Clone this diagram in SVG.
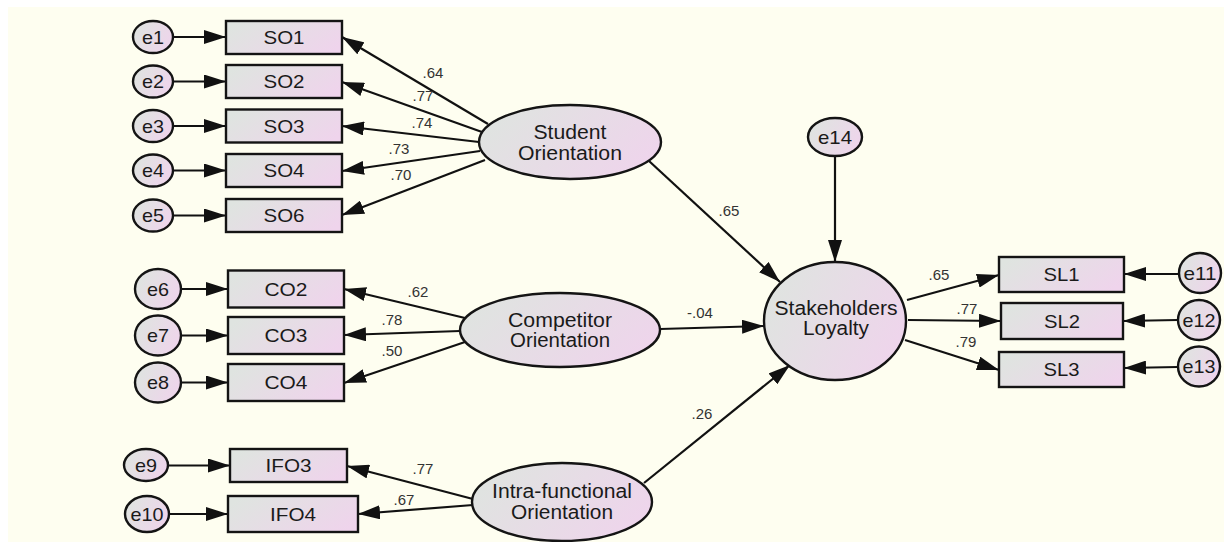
<svg xmlns="http://www.w3.org/2000/svg" width="1224" height="542" viewBox="0 0 1224 542">
<style>
.bg{fill:#fefef0}
.box{fill:url(#g);stroke:#141414;stroke-width:2.4}
.ell{fill:url(#g);stroke:#141414;stroke-width:2.4}
.t{font-family:"Liberation Sans",Arial,sans-serif;font-size:18.5px;fill:#1a1a1a;text-anchor:middle}
.lt{font-family:"Liberation Sans",Arial,sans-serif;font-size:19.5px;fill:#1a1a1a;text-anchor:middle}
.c{font-family:"Liberation Sans",Arial,sans-serif;font-size:15px;fill:#333;text-anchor:middle}
.ln{stroke:#111;stroke-width:2.2;fill:none;marker-end:url(#ah)}
</style>
<defs>
<linearGradient id="g" x1="0" y1="0.3" x2="1" y2="0.7">
<stop offset="0" stop-color="#dfe4e0"/>
<stop offset="1" stop-color="#efd4ec"/>
</linearGradient>
<marker id="ah" viewBox="0 0 22 14" refX="22" refY="7" markerWidth="22" markerHeight="14" markerUnits="userSpaceOnUse" orient="auto">
<path d="M0,0 L22,7 L0,14 z" fill="#111"/>
</marker>
</defs>
<rect x="0" y="0" width="1224" height="542" fill="#ffffff"/>
<rect class="bg" x="8" y="7" width="1216" height="535"/>

<g id="connectors">
<line class="ln" x1="173" y1="37" x2="226" y2="37"/>
<line class="ln" x1="173" y1="81.5" x2="226" y2="81.5"/>
<line class="ln" x1="173" y1="126" x2="226" y2="126"/>
<line class="ln" x1="173" y1="170.5" x2="226" y2="170.5"/>
<line class="ln" x1="173" y1="215.5" x2="226" y2="215.5"/>
<line class="ln" x1="181" y1="289" x2="228" y2="289"/>
<line class="ln" x1="181" y1="335.5" x2="228" y2="335.5"/>
<line class="ln" x1="181" y1="382.5" x2="228" y2="382.5"/>
<line class="ln" x1="168" y1="465.5" x2="230" y2="465.5"/>
<line class="ln" x1="169" y1="514" x2="228" y2="514"/>
<line class="ln" x1="488" y1="124" x2="342" y2="37"/>
<line class="ln" x1="482" y1="132" x2="342" y2="82"/>
<line class="ln" x1="479" y1="142" x2="342" y2="126"/>
<line class="ln" x1="480" y1="151" x2="342" y2="171"/>
<line class="ln" x1="485" y1="160" x2="342" y2="215"/>
<line class="ln" x1="465" y1="318" x2="344" y2="289"/>
<line class="ln" x1="460" y1="331" x2="344" y2="335"/>
<line class="ln" x1="465" y1="342" x2="344" y2="383"/>
<line class="ln" x1="473" y1="499" x2="347" y2="466"/>
<line class="ln" x1="473" y1="505" x2="358" y2="514"/>
<line class="ln" x1="649" y1="161" x2="780" y2="282"/>
<line class="ln" x1="660" y1="329" x2="764" y2="326"/>
<line class="ln" x1="644" y1="483" x2="790" y2="365"/>
<line class="ln" x1="835" y1="157" x2="835" y2="262"/>
<line class="ln" x1="907" y1="300" x2="999" y2="275"/>
<line class="ln" x1="908" y1="320" x2="1001" y2="321"/>
<line class="ln" x1="905" y1="340" x2="999" y2="370"/>
<line class="ln" x1="1179" y1="274" x2="1124" y2="274"/>
<line class="ln" x1="1178" y1="320" x2="1123" y2="321"/>
<line class="ln" x1="1178" y1="367" x2="1124" y2="368"/>
<text class="c" x="433" y="78">.64</text>
<text class="c" x="423" y="101">.77</text>
<text class="c" x="422" y="128">.74</text>
<text class="c" x="399" y="154">.73</text>
<text class="c" x="401" y="180">.70</text>
<text class="c" x="418" y="297">.62</text>
<text class="c" x="392" y="325">.78</text>
<text class="c" x="392" y="356">.50</text>
<text class="c" x="423" y="474">.77</text>
<text class="c" x="404" y="505">.67</text>
<text class="c" x="729" y="216">.65</text>
<text class="c" x="700" y="318">-.04</text>
<text class="c" x="702" y="419">.26</text>
<text class="c" x="939" y="280">.65</text>
<text class="c" x="967" y="314">.77</text>
<text class="c" x="966" y="347">.79</text>
</g>

<g id="e1"><ellipse class="ell" cx="153" cy="37" rx="20" ry="16"/><text class="t" x="153" y="43.5" textLength="22" lengthAdjust="spacingAndGlyphs">e1</text></g>
<g id="e2"><ellipse class="ell" cx="153" cy="81.5" rx="20" ry="16"/><text class="t" x="153" y="88" textLength="22" lengthAdjust="spacingAndGlyphs">e2</text></g>
<g id="e3"><ellipse class="ell" cx="153" cy="126" rx="20" ry="16"/><text class="t" x="153" y="132.5" textLength="22" lengthAdjust="spacingAndGlyphs">e3</text></g>
<g id="e4"><ellipse class="ell" cx="153" cy="170.5" rx="20" ry="16"/><text class="t" x="153" y="177" textLength="22" lengthAdjust="spacingAndGlyphs">e4</text></g>
<g id="e5"><ellipse class="ell" cx="153" cy="215.5" rx="20" ry="16"/><text class="t" x="153" y="222" textLength="22" lengthAdjust="spacingAndGlyphs">e5</text></g>

<g id="SO1"><rect class="box" x="226" y="21" width="116" height="33"/><text class="t" x="284" y="44" textLength="41" lengthAdjust="spacingAndGlyphs">SO1</text></g>
<g id="SO2"><rect class="box" x="226" y="65" width="116" height="33"/><text class="t" x="284" y="88" textLength="41" lengthAdjust="spacingAndGlyphs">SO2</text></g>
<g id="SO3"><rect class="box" x="226" y="109.5" width="116" height="33"/><text class="t" x="284" y="132.5" textLength="41" lengthAdjust="spacingAndGlyphs">SO3</text></g>
<g id="SO4"><rect class="box" x="226" y="154" width="116" height="33"/><text class="t" x="284" y="177" textLength="41" lengthAdjust="spacingAndGlyphs">SO4</text></g>
<g id="SO6"><rect class="box" x="226" y="199" width="116" height="33"/><text class="t" x="284" y="222" textLength="41" lengthAdjust="spacingAndGlyphs">SO6</text></g>

<g id="StudentOrientation"><ellipse class="ell" cx="570" cy="142" rx="91" ry="37"/><text class="lt" x="570" y="139" textLength="73" lengthAdjust="spacingAndGlyphs">Student</text><text class="lt" x="570" y="160" textLength="104" lengthAdjust="spacingAndGlyphs">Orientation</text></g>

<g id="e6"><ellipse class="ell" cx="158" cy="289" rx="23" ry="20"/><text class="t" x="158" y="295.5" textLength="22" lengthAdjust="spacingAndGlyphs">e6</text></g>
<g id="e7"><ellipse class="ell" cx="158" cy="335.5" rx="23" ry="20"/><text class="t" x="158" y="342" textLength="22" lengthAdjust="spacingAndGlyphs">e7</text></g>
<g id="e8"><ellipse class="ell" cx="158" cy="382.5" rx="23" ry="20"/><text class="t" x="158" y="389" textLength="22" lengthAdjust="spacingAndGlyphs">e8</text></g>

<g id="CO2"><rect class="box" x="228" y="270.5" width="116" height="37"/><text class="t" x="286" y="295.5" textLength="43" lengthAdjust="spacingAndGlyphs">CO2</text></g>
<g id="CO3"><rect class="box" x="228" y="317" width="116" height="37"/><text class="t" x="286" y="342" textLength="43" lengthAdjust="spacingAndGlyphs">CO3</text></g>
<g id="CO4"><rect class="box" x="228" y="364" width="116" height="37"/><text class="t" x="286" y="389" textLength="43" lengthAdjust="spacingAndGlyphs">CO4</text></g>

<g id="CompetitorOrientation"><ellipse class="ell" cx="560" cy="330" rx="100" ry="37"/><text class="lt" x="560" y="327" textLength="104" lengthAdjust="spacingAndGlyphs">Competitor</text><text class="lt" x="560" y="347" textLength="100" lengthAdjust="spacingAndGlyphs">Orientation</text></g>

<g id="e9"><ellipse class="ell" cx="146" cy="465" rx="22" ry="16"/><text class="t" x="146" y="471.5" textLength="22" lengthAdjust="spacingAndGlyphs">e9</text></g>
<g id="e10"><ellipse class="ell" cx="147" cy="514" rx="22" ry="18"/><text class="t" x="147" y="520.5" textLength="33" lengthAdjust="spacingAndGlyphs">e10</text></g>

<g id="IFO3"><rect class="box" x="230" y="449" width="117" height="33"/><text class="t" x="288.5" y="472" textLength="46" lengthAdjust="spacingAndGlyphs">IFO3</text></g>
<g id="IFO4"><rect class="box" x="228" y="496" width="130" height="36"/><text class="t" x="293" y="520.5" textLength="46" lengthAdjust="spacingAndGlyphs">IFO4</text></g>

<g id="IntraFunctionalOrientation"><ellipse class="ell" cx="562" cy="502" rx="90" ry="39"/><text class="lt" x="562" y="498" textLength="140" lengthAdjust="spacingAndGlyphs">Intra-functional</text><text class="lt" x="562" y="519" textLength="102" lengthAdjust="spacingAndGlyphs">Orientation</text></g>

<g id="e14"><ellipse class="ell" cx="835" cy="137" rx="27" ry="19"/><text class="t" x="835" y="143.5" textLength="34" lengthAdjust="spacingAndGlyphs">e14</text></g>

<g id="StakeholdersLoyalty"><ellipse class="ell" cx="835" cy="321" rx="71" ry="59"/><text class="lt" x="836" y="315" textLength="123" lengthAdjust="spacingAndGlyphs">Stakeholders</text><text class="lt" x="836" y="335" textLength="66" lengthAdjust="spacingAndGlyphs">Loyalty</text></g>

<g id="SL1"><rect class="box" x="999" y="257" width="125" height="35"/><text class="t" x="1061.5" y="281" textLength="36" lengthAdjust="spacingAndGlyphs">SL1</text></g>
<g id="SL2"><rect class="box" x="1001" y="303" width="122" height="36"/><text class="t" x="1062" y="327.5" textLength="36" lengthAdjust="spacingAndGlyphs">SL2</text></g>
<g id="SL3"><rect class="box" x="999" y="352" width="125" height="35"/><text class="t" x="1061.5" y="376" textLength="36" lengthAdjust="spacingAndGlyphs">SL3</text></g>

<g id="e11"><ellipse class="ell" cx="1200" cy="273" rx="21" ry="20"/><text class="t" x="1200" y="279.5" textLength="33" lengthAdjust="spacingAndGlyphs">e11</text></g>
<g id="e12"><ellipse class="ell" cx="1199" cy="320" rx="21" ry="20"/><text class="t" x="1199" y="326.5" textLength="33" lengthAdjust="spacingAndGlyphs">e12</text></g>
<g id="e13"><ellipse class="ell" cx="1199" cy="366.5" rx="21" ry="20"/><text class="t" x="1199" y="373" textLength="33" lengthAdjust="spacingAndGlyphs">e13</text></g>
</svg>
